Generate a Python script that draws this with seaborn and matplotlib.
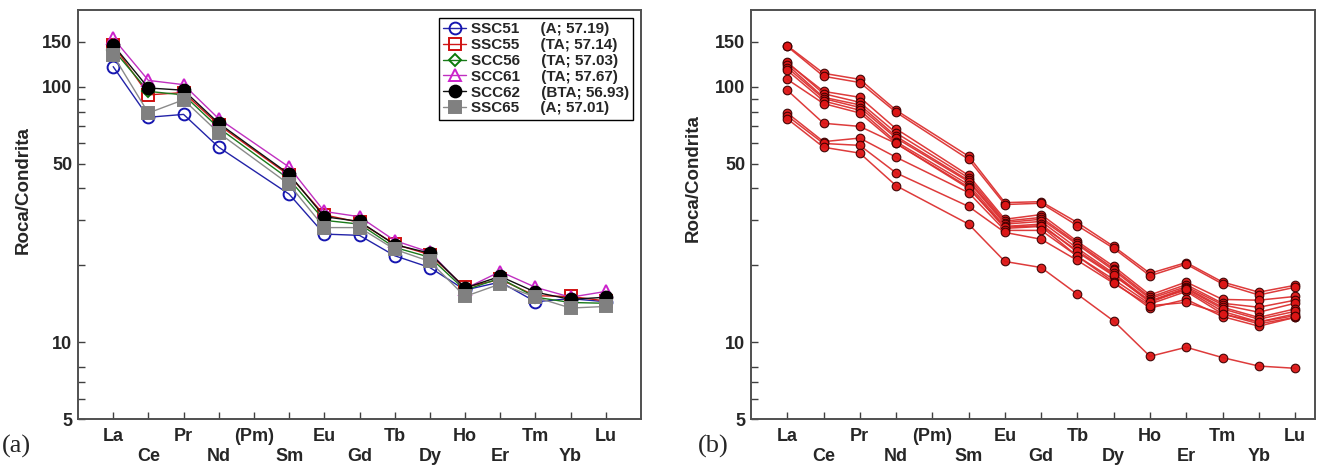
import numpy as np
import pandas as pd
import matplotlib
matplotlib.use("Agg")
import matplotlib.pyplot as plt
import seaborn as sns

# ---- chondrite-normalised REE data -------------------------------------
elements = ["La", "Ce", "Pr", "Nd", "(Pm)", "Sm", "Eu", "Gd", "Tb", "Dy",
            "Ho", "Er", "Tm", "Yb", "Lu"]
ree = ["La", "Ce", "Pr", "Nd", "Sm", "Eu", "Gd", "Tb", "Dy",
       "Ho", "Er", "Tm", "Yb", "Lu"]          # Pm not analysed

# panel (a): selected samples
sample_names = ["SSC51", "SSC55", "SCC56", "SCC61", "SCC62", "SSC65"]
sample_info = ["A; 57.19", "TA; 57.14", "TA; 57.03", "TA; 57.67",
               "BTA; 56.93", "A; 57.01"]
ssc51 = [120, 76, 78, 58, 38, 26.5, 26.2, 21.8, 19.6, 16.0, 17.2, 14.4, 14.8, 14.4]
ssc55 = [146, 93, 95, 71, 45, 31.5, 29.5, 24.2, 22.0, 16.4, 17.6, 15.2, 15.1, 14.5]
scc56 = [140, 96, 93, 69, 43.5, 30.0, 29.0, 23.5, 21.5, 16.0, 17.8, 15.0, 14.3, 14.2]
scc61 = [155, 106, 102, 75, 48.5, 32.5, 31.0, 25.0, 22.5, 16.2, 18.9, 16.4, 15.0, 15.8]
scc62 = [146, 99, 97, 72, 45.5, 31.0, 29.7, 24.1, 22.3, 16.3, 18.1, 15.7, 14.7, 15.0]
ssc65 = [133, 79, 89, 66, 41.5, 28.1, 28.1, 23.1, 20.7, 15.1, 16.9, 15.0, 13.6, 13.8]
panel_a = [ssc51, ssc55, scc56, scc61, scc62, ssc65]

# panel (b): whole suite
suite_1 = [145, 113, 107, 81, 53.5, 35.2, 35.5, 29.4, 23.7, 18.6, 20.5, 17.2, 15.7, 16.7]
suite_2 = [144, 110, 104, 79.5, 52, 34.6, 35.0, 28.6, 23.3, 18.2, 20.2, 16.9, 15.3, 16.4]
suite_3 = [124, 96, 91, 68.5, 45, 30.3, 31.6, 24.8, 19.8, 15.3, 17.2, 14.7, 14.6, 15.1]
suite_4 = [125, 94, 87, 66, 44, 29.8, 30.8, 24.4, 19.4, 15.0, 16.8, 14.2, 13.7, 14.6]
suite_5 = [122, 91, 85, 64, 43, 29.4, 30.3, 24.1, 19.1, 14.8, 16.5, 14.0, 13.1, 14.2]
suite_6 = [119, 90, 83, 63, 42.5, 29.0, 29.7, 23.3, 18.6, 14.5, 16.3, 13.7, 12.5, 13.5]
suite_7 = [116, 88, 81, 61, 41.4, 28.4, 29.0, 22.5, 18.2, 14.5, 16.0, 13.2, 12.0, 12.9]
suite_8 = [107, 86, 79, 60, 40.5, 27.9, 28.4, 21.7, 17.6, 14.1, 15.8, 12.9, 11.8, 12.5]
suite_9 = [97, 72, 70, 60, 40, 28.2, 28.6, 22.8, 18.4, 14.3, 16.2, 13.5, 12.3, 13.2]
suite_10 = [79, 61, 63, 53, 38.5, 27.4, 27.4, 21.7, 17.2, 13.6, 14.7, 12.6, 11.55, 12.5]
suite_11 = [77, 60, 59, 46, 34, 26.9, 25.3, 20.9, 17.0, 13.9, 14.3, 12.9, 12.0, 12.7]
suite_12 = [75, 58, 55, 41, 29, 20.7, 19.6, 15.4, 12.1, 8.8, 9.55, 8.7, 8.06, 7.9]
panel_b = [suite_1, suite_2, suite_3, suite_4, suite_5, suite_6,
           suite_7, suite_8, suite_9, suite_10, suite_11, suite_12]

y_major = [5, 10, 50, 100, 150]
y_minor = [6, 7, 8, 20, 30, 40, 60, 70, 80, 90]

# ---- styling -------------------------------------------------------------
sns.set_style("ticks")
plt.rcParams["font.family"] = ["Liberation Sans", "DejaVu Sans"]
plt.rcParams["font.weight"] = "bold"

TICK_FS = 13
pos = {el: i + 1 for i, el in enumerate(elements)}
ree_x = [pos[e] for e in ree]

fig = plt.figure(figsize=(13.19, 4.70), dpi=100)
ax_a = fig.add_axes([78 / 1319, 51 / 470, 563 / 1319, 409 / 470])
ax_b = fig.add_axes([751 / 1319, 51 / 470, 564 / 1319, 409 / 470])

styles = [
    dict(color="#2323a8", marker="o", mfc="none", mec="#1515b0"),
    dict(color="#d01818", marker="s", mfc="none", mec="#d01010"),
    dict(color="#1a7a1a", marker="D", mfc="none", mec="#0a7a0a", ms=6.5),
    dict(color="#c030c0", marker="^", mfc="none", mec="#cc22cc"),
    dict(color="#101010", marker="o", mfc="black", mec="black"),
    dict(color="#8a8a8a", marker="s", mfc="#808080", mec="#808080"),
]

for vals, name, info, st in zip(panel_a, sample_names, sample_info, styles):
    df = pd.DataFrame({"x": ree_x, "y": vals})
    kw = dict(ms=8.5, mew=1.4)
    kw.update(st)
    color = kw.pop("color")
    sns.lineplot(data=df, x="x", y="y", ax=ax_a, color=color, lw=1.0,
                 label=f"{name}     ({info})", estimator=None, sort=False, **kw)

rows = []
for k, vals in enumerate(panel_b):
    for x, v in zip(ree_x, vals):
        rows.append({"sample": k, "x": x, "y": v})
df_b = pd.DataFrame(rows)
sns.lineplot(data=df_b, x="x", y="y", units="sample", estimator=None, ax=ax_b,
             color="#dc3030", lw=1.1, alpha=0.95, marker="o", ms=6.2,
             mfc="#dd1515", mec="#3a0000", mew=0.8, sort=False, legend=False)

odd_pos = [pos[e] for e in elements[0::2]]
even_pos = [pos[e] for e in elements[1::2]]

for ax, xmax in ((ax_a, 16.0), (ax_b, 15.55)):
    ax.set_yscale("log")
    ax.set_ylim(5, 200)
    ax.set_xlim(0.0, xmax)
    ax.set_yticks(y_major, [str(v) for v in y_major])
    ax.set_yticks(y_minor, [], minor=True)
    ax.set_xticks(odd_pos, elements[0::2])
    ax.set_xticks(even_pos, elements[1::2], minor=True)
    ax.tick_params(axis="both", which="both", direction="in", length=5,
                   width=1.0, color="#404040", labelsize=TICK_FS)
    ax.tick_params(axis="x", which="major", pad=6.5)
    ax.tick_params(axis="x", which="minor", pad=21)
    ax.tick_params(axis="y", which="major", pad=4)
    for lab in ax.get_xticklabels(which="both") + ax.get_yticklabels():
        lab.set_fontweight("bold")
    for sp in ax.spines.values():
        sp.set_visible(True)
        sp.set_color("#505050")
        sp.set_linewidth(1.4)
    ax.set_xlabel("")
    ax.set_ylabel("Roca/Condrita", fontsize=13.5, fontweight="bold")

ax_a.yaxis.set_label_coords(-0.082, 0.56)
ax_b.yaxis.set_label_coords(-0.087, 0.59)

leg = ax_a.legend(loc="upper right", fontsize=11, frameon=True, fancybox=False,
                  edgecolor="black", framealpha=1, borderaxespad=0.5,
                  handlelength=1.5, handletextpad=0.3, labelspacing=0.12,
                  borderpad=0.3)
leg.get_frame().set_linewidth(1.0)
for t in leg.get_texts():
    t.set_fontweight("bold")

fig.text(2 / 1319, 1 - 446 / 470, "(a)", fontsize=19, va="center", ha="left",
         family=["Liberation Serif", "DejaVu Serif"], fontweight="normal")
fig.text(698 / 1319, 1 - 446 / 470, "(b)", fontsize=19, va="center", ha="left",
         family=["Liberation Serif", "DejaVu Serif"], fontweight="normal")

fig.savefig("out.png", dpi=100)
